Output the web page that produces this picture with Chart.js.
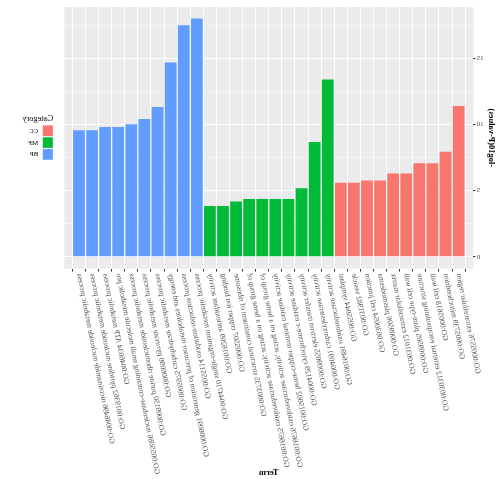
<!DOCTYPE html>
<html>
<head>
<meta charset="utf-8">
<script src="https://cdn.jsdelivr.net/npm/chart.js@4/dist/chart.umd.min.js"></script>
<style>
  html, body { margin: 0; padding: 0; background: #ffffff; }
  #wrap { width: 504px; height: 479px; transform: scaleX(-1); }
  canvas { display: block; }
</style>
</head>
<body>
<div id="wrap"><canvas id="c" width="504" height="479"></canvas></div>
<script>
// GO enrichment: -log10(P-values) per term, grouped by ontology
const categories = ["CC", "MF", "BP"];
const categoryColors = ["#F8766D", "#00BA38", "#619CFF"];

const ccTerms = [
  "GO:0005576 extracellular region",
  "GO:0005739 mitochondrion",
  "GO:0005618 cell wall",
  "GO:0030312 external encapsulating structure",
  "GO:0009505 plant-type cell wall",
  "GO:0031012 extracellular matrix",
  "GO:0009506 plasmodesma",
  "GO:0030054 cell junction",
  "GO:0031982 vesicle",
  "GO:0055044 symplast"
];
const ccValues = [11.4, 7.95, 7.07, 7.07, 6.3, 6.3, 5.76, 5.76, 5.59, 5.59];

const mfTerms = [
  "GO:0016491 oxidoreductase activity",
  "GO:0004091 carboxylesterase activity",
  "GO:0009055 electron transfer activity",
  "GO:0004129 cytochrome-c oxidase activity",
  "GO:0015002 heme-copper terminal oxidase activity",
  "GO:0016676 oxidoreductase activity, acting on a heme group of",
  "GO:0016675 oxidoreductase activity, acting on a heme group of",
  "GO:0003735 structural constituent of ribosome",
  "GO:0005507 copper ion binding",
  "GO:0016209 antioxidant activity"
];
const mfValues = [13.42, 8.69, 5.19, 4.36, 4.36, 4.36, 4.36, 4.18, 3.83, 3.83];

const bpTerms = [
  "GO:0044710 single-organism metabolic process",
  "GO:0055114 oxidation-reduction process",
  "GO:0006091 generation of precursor metabolites and energy",
  "GO:0005975 carbohydrate metabolic process",
  "GO:0006090 pyruvate metabolic process",
  "GO:0009150 purine ribonucleotide metabolic process",
  "GO:0055086 nucleobase-containing small molecule metabolic pro",
  "GO:0046034 ATP metabolic process",
  "GO:0019362 pyridine nucleotide metabolic process",
  "GO:0046496 nicotinamide nucleotide metabolic process"
];
const bpValues = [18.03, 17.52, 14.7, 11.33, 10.42, 10.02, 9.82, 9.82, 9.57, 9.57];

const yMajorTicks = [0, 5, 10, 15];
const yMinorTicks = [2.5, 7.5, 12.5, 17.5];
const xTitle = "Term";
const yTitle = "-log10(P-values)";
const legendTitle = "Category";

// one x position per term, categories laid out in order
const termGroups = [ccTerms, mfTerms, bpTerms];
const valueGroups = [ccValues, mfValues, bpValues];
const allTerms = [].concat(...termGroups);

let offset = 0;
const datasets = categories.map((cat, k) => {
  const start = offset;
  offset += termGroups[k].length;
  return {
    label: cat,
    data: valueGroups[k].map((v, i) => ({ x: start + i, y: v })),
    backgroundColor: categoryColors[k],
    borderWidth: 0,
    grouped: false,
    barPercentage: 0.9,
    categoryPercentage: 1.0
  };
});

const SERIF = "'Liberation Serif', 'DejaVu Serif', serif";

// grey ggplot-style panel
const panelBackground = {
  id: 'panelBackground',
  beforeDraw(chart) {
    const { ctx, chartArea: a } = chart;
    ctx.save();
    ctx.fillStyle = '#EBEBEB';
    ctx.fillRect(a.left, a.top, a.right - a.left, a.bottom - a.top);
    ctx.restore();
  }
};

// legend with title and stacked square keys at the right of the panel
const keyLegend = {
  id: 'keyLegend',
  afterDraw(chart) {
    const { ctx } = chart;
    const x0 = chart.chartArea.right + 11;
    let y = 125;
    ctx.save();
    ctx.fillStyle = '#000000';
    ctx.font = "8.5px " + SERIF;
    ctx.textAlign = 'left';
    ctx.textBaseline = 'middle';
    ctx.fillText(legendTitle, x0, 118.5);
    chart.data.datasets.forEach(ds => {
      ctx.fillStyle = '#F2F2F2';
      ctx.fillRect(x0, y, 11, 11.6);
      ctx.fillStyle = ds.backgroundColor;
      ctx.fillRect(x0 + 0.5, y + 0.5, 10, 10.6);
      ctx.fillStyle = '#000000';
      ctx.font = "7px " + SERIF;
      ctx.fillText(ds.label, x0 + 15, y + 6);
      y += 11.8;
    });
    ctx.restore();
  }
};

new Chart(document.getElementById('c'), {
  type: 'bar',
  data: { datasets },
  plugins: [panelBackground, keyLegend],
  options: {
    responsive: false,
    animation: false,
    devicePixelRatio: 1,
    layout: { padding: { left: 0, right: 64.3, top: 7, bottom: 0 } },
    plugins: { legend: { display: false }, tooltip: { enabled: false } },
    scales: {
      x: {
        type: 'linear',
        min: -0.6,
        max: allTerms.length - 1 + 0.6,
        afterBuildTicks(scale) {
          scale.ticks = allTerms.map((t, i) => ({ value: i }));
        },
        afterFit(scale) { scale.height = 479 - 268.6; },
        grid: {
          color: '#FFFFFF',
          lineWidth: 1,
          drawTicks: true,
          tickLength: 3,
          tickColor: '#333333'
        },
        border: { display: false },
        ticks: {
          autoSkip: false,
          minRotation: 79,
          maxRotation: 79,
          padding: 1,
          color: '#4D4D4D',
          font: { family: SERIF, size: 7.7 },
          callback: v => allTerms[v]
        },
        title: {
          display: true,
          text: xTitle,
          color: '#000000',
          font: { family: SERIF, size: 8.5, weight: 'bold' },
          padding: { top: 0, bottom: 1 }
        }
      },
      y: {
        min: -0.9,
        max: 18.9,
        afterBuildTicks(scale) {
          scale.ticks = yMajorTicks.concat(yMinorTicks)
            .sort((a, b) => a - b)
            .map(v => ({ value: v }));
        },
        afterFit(scale) { scale.width = 30.7; },
        grid: {
          color: '#FFFFFF',
          lineWidth: ctx => (ctx.tick && ctx.tick.value % 5 === 0) ? 1.1 : 0.5,
          tickLength: 2,
          tickColor: ctx => (ctx.tick && ctx.tick.value % 5 === 0) ? '#333333' : 'rgba(0,0,0,0)'
        },
        border: { display: false },
        ticks: {
          padding: 1.5,
          color: '#4D4D4D',
          font: { family: SERIF, size: 7 },
          callback: v => (yMajorTicks.includes(v) ? String(v) : '')
        },
        title: {
          display: true,
          text: yTitle,
          color: '#000000',
          font: { family: SERIF, size: 8.5, weight: 'bold' },
          padding: { top: 8, bottom: 0 }
        }
      }
    }
  }
});
</script>
</body>
</html>
